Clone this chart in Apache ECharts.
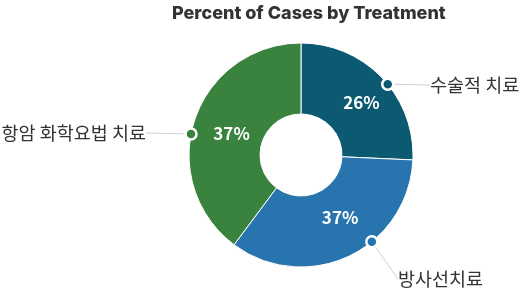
<!DOCTYPE html>
<html>
<head>
<meta charset="utf-8">
<script src="https://cdn.jsdelivr.net/npm/echarts@6/dist/echarts.min.js"></script>
<style>html,body{margin:0;padding:0;background:#fff}#c{width:525px;height:292px}</style>
</head>
<body>
<div id="c"></div>
<script>
var categories = ['수술적 치료', '방사선치료', '항암 화학요법 치료'];
// slice sizes as drawn in the picture
var values = [25.7, 34.5, 39.8];
// percent labels as printed on the slices
var pctLabels = ['26%', '37%', '37%'];
var titleText = 'Percent of Cases by Treatment';

var colors = ['#0b5a71', '#2874ae', '#3a833e'];
var center = [301, 155];
var outerR = 112;
// where each label's guide marker sits on the rim (percent of the circle, clockwise from top)
var markerAt = [14.1, 39.1, 78.0];
var labelPos = [
  {x: 430, y: 85, align: 'left'},
  {x: 398, y: 279, align: 'left'},
  {x: 146, y: 133, align: 'right'}
];
var pctShift = [[3, 3], [5, -9], [6, 4]];

var chart = echarts.init(document.getElementById('c'), null, {renderer: 'canvas'});
var fontKR = '"Noto Sans CJK KR", "Noto Sans", sans-serif';
chart.setOption({
  animation: false,
  title: {
    text: titleText, left: 167, top: 0,
    textStyle: {fontFamily: 'Inter', fontWeight: 800, fontSize: 18, color: '#333'}
  },
  polar: {center: center, radius: outerR},
  angleAxis: {type: 'value', min: 0, max: 100, startAngle: 90, clockwise: true, show: false},
  radiusAxis: {type: 'value', min: 0, max: 1, show: false},
  series: [
    {
      type: 'pie',
      center: center,
      radius: [41, outerR],
      startAngle: 90,
      clockwise: true,
      itemStyle: {borderColor: '#fff', borderWidth: 1},
      label: {
        position: 'inside',
        formatter: function (p) { return pctLabels[p.dataIndex]; },
        color: '#fff', fontFamily: fontKR, fontWeight: 'bold', fontSize: 17
      },
      labelLine: {show: false},
      labelLayout: function (p) {
        var s = pctShift[p.dataIndex];
        return {dx: s[0], dy: s[1]};
      },
      data: categories.map(function (c, i) {
        return {name: c, value: values[i], itemStyle: {color: colors[i]}};
      }),
      z: 1
    },
    {
      type: 'scatter',
      coordinateSystem: 'polar',
      symbol: 'circle',
      symbolSize: 11,
      z: 5,
      itemStyle: {borderColor: '#fff', borderWidth: 2.5, opacity: 1},
      data: categories.map(function (c, i) {
        return {name: c, value: [1, markerAt[i]], itemStyle: {color: colors[i]}};
      }),
      label: {
        show: true,
        formatter: function (p) { return p.name; },
        color: '#333', fontFamily: fontKR, fontSize: 18.5
      },
      labelLine: {show: true, lineStyle: {color: '#d0d0d0', width: 1}},
      labelLayout: function (p) {
        var l = labelPos[p.dataIndex];
        return {x: l.x, y: l.y, align: l.align, verticalAlign: 'middle'};
      },
      emphasis: {disabled: true}
    }
  ]
});
</script>
</body>
</html>
